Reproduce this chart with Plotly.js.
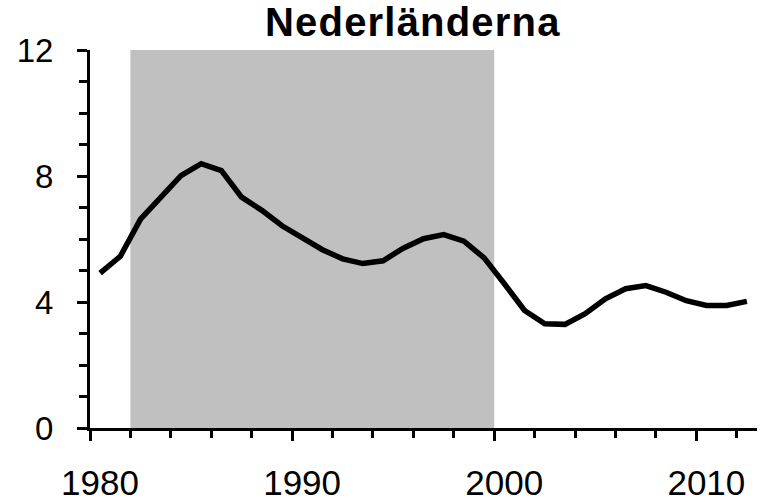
<!DOCTYPE html>
<html>
<head>
<meta charset="utf-8">
<script src="https://cdn.plot.ly/plotly-3.0.1.min.js"></script>
<style>
html,body{margin:0;padding:0;background:#fff;}
#chart{width:760px;height:502px;}
#chart .gtitle{letter-spacing:1.2px;}
</style>
</head>
<body>
<div id="chart"></div>
<script>
// Data (values at mid-year)
const years = [1980.5, 1981.5, 1982.5, 1983.5, 1984.5, 1985.5, 1986.5, 1987.5, 1988.5, 1989.5,
               1990.5, 1991.5, 1992.5, 1993.5, 1994.5, 1995.5, 1996.5, 1997.5, 1998.5, 1999.5,
               2000.5, 2001.5, 2002.5, 2003.5, 2004.5, 2005.5, 2006.5, 2007.5, 2008.5, 2009.5,
               2010.5, 2011.5, 2012.5];
const values = [4.92, 5.45, 6.63, 7.30, 8.01, 8.39, 8.17, 7.33, 6.91, 6.42,
                6.02, 5.66, 5.37, 5.22, 5.31, 5.71, 6.01, 6.14, 5.93, 5.40,
                4.58, 3.73, 3.31, 3.29, 3.63, 4.10, 4.42, 4.52, 4.31, 4.04,
                3.89, 3.89, 4.02];
const shadeStart = 1982;
const shadeEnd = 2000;
const xTickVals = [1980, 1990, 2000, 2010];
const xTickText = ['1980', '1990', '2000', '2010'];
const yTickVals = [0, 4, 8, 12];
const yTickText = ['0', '4', '8', '12'];
const titleText = 'Nederländerna';

const trace = {
  x: years, y: values, type: 'scatter', mode: 'lines',
  line: {color: '#000000', width: 5.5},
  hoverinfo: 'skip'
};

const layout = {
  width: 760, height: 502,
  margin: {l: 90, r: 3, t: 50, b: 74, pad: 0},
  paper_bgcolor: '#ffffff', plot_bgcolor: '#ffffff',
  showlegend: false,
  font: {family: '"Liberation Sans", Arial, sans-serif', color: '#000000'},
  title: {
    text: titleText,
    font: {family: '"Liberation Sans", Arial, sans-serif', size: 40, weight: 'bold', color: '#000'},
    xref: 'paper', x: 0.484, xanchor: 'center',
    yref: 'container', y: 0.984, yanchor: 'top'
  },
  xaxis: {
    range: [1980, 2013], showgrid: false, zeroline: false,
    showline: true, linecolor: '#000', linewidth: 3,
    tickmode: 'array', tickvals: xTickVals, ticktext: xTickText,
    ticks: 'outside', ticklen: 10, tickwidth: 3, tickcolor: '#000',
    ticklabelshift: 10, ticklabelstandoff: 12,
    tickfont: {size: 35, color: '#000'},
    minor: {dtick: 2, tick0: 1980, ticks: 'outside', ticklen: 7, tickwidth: 3, tickcolor: '#000', showgrid: false},
    fixedrange: true
  },
  yaxis: {
    range: [0, 12], showgrid: false, zeroline: false,
    showline: true, linecolor: '#000', linewidth: 3,
    tickmode: 'array', tickvals: yTickVals, ticktext: yTickText,
    ticks: 'outside', ticklen: 10, tickwidth: 3, tickcolor: '#000',
    ticklabelstandoff: 17,
    tickfont: {size: 33, color: '#000'},
    minor: {dtick: 1, tick0: 0, ticks: 'outside', ticklen: 8, tickwidth: 3, tickcolor: '#000', showgrid: false},
    fixedrange: true
  },
  shapes: [{
    type: 'rect', xref: 'x', yref: 'y', layer: 'below',
    x0: shadeStart, x1: shadeEnd, y0: 0, y1: 12,
    fillcolor: '#c0c0c0', line: {width: 0}
  }]
};

Plotly.newPlot('chart', [trace], layout, {staticPlot: true, displayModeBar: false});
</script>
</body>
</html>
